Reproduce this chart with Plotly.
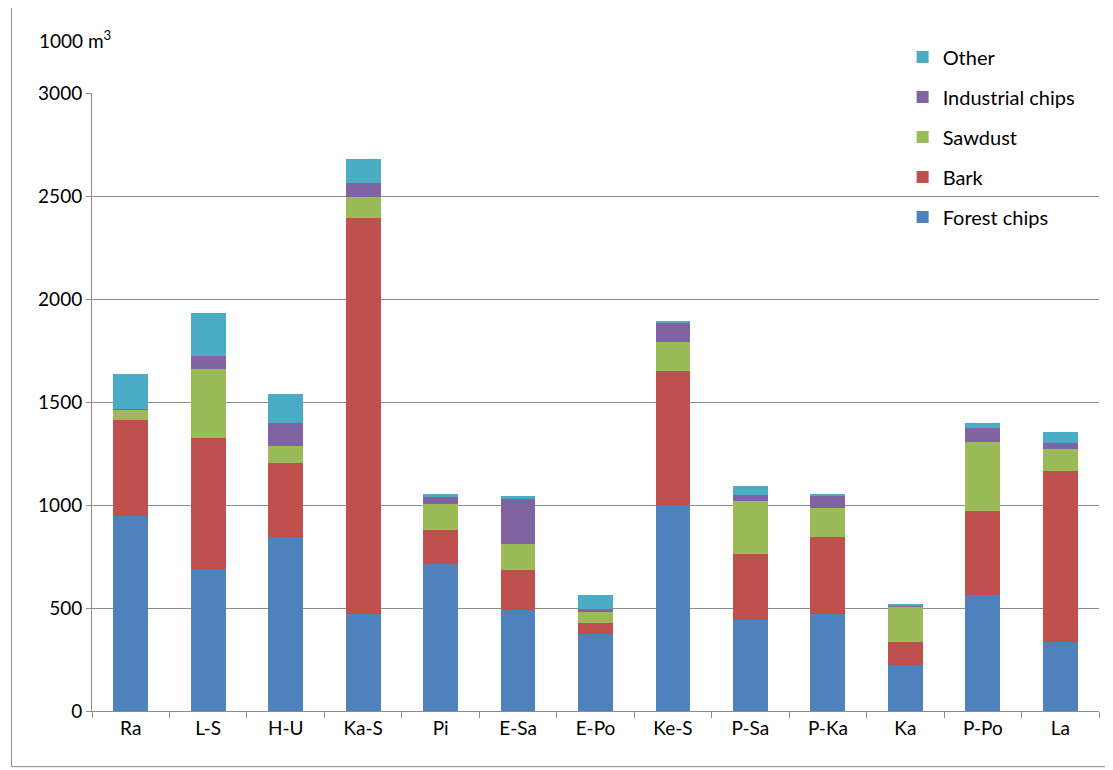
import plotly.graph_objects as go

regions = ["Ra", "L-S", "H-U", "Ka-S", "Pi", "E-Sa", "E-Po", "Ke-S", "P-Sa", "P-Ka", "Ka", "P-Po", "La"]

# cumulative tops, converted to segment sizes below
top_forest = [945, 688, 843, 473, 715, 490, 375, 1000, 440, 470, 225, 565, 335]
top_bark = [1412, 1323, 1205, 2393, 880, 685, 425, 1650, 762, 845, 335, 970, 1165]
top_sawdust = [1462, 1658, 1287, 2496, 1005, 810, 480, 1790, 1020, 985, 505, 1305, 1270]
top_industrial = [1465, 1722, 1400, 2565, 1040, 1030, 495, 1885, 1050, 1045, 510, 1375, 1300]
top_other = [1635, 1932, 1538, 2680, 1055, 1045, 565, 1895, 1090, 1050, 515, 1400, 1355]

def diff(a, b):
    return [x - y for x, y in zip(a, b)]

series = [
    ("Forest chips", top_forest, "#4F81BD"),
    ("Bark", diff(top_bark, top_forest), "#C0504D"),
    ("Sawdust", diff(top_sawdust, top_bark), "#9BBB59"),
    ("Industrial chips", diff(top_industrial, top_sawdust), "#8064A2"),
    ("Other", diff(top_other, top_industrial), "#4BACC6"),
]

fig = go.Figure()
for i, (name, vals, color) in enumerate(series):
    fig.add_trace(go.Bar(x=regions, y=vals, name=name, legendgroup=name, legendrank=1000 - i,
                         marker_color=color, marker_line_width=0))

fig.update_layout(
    barmode="stack",
    bargap=0.55,
    width=1113, height=770,
    paper_bgcolor="white", plot_bgcolor="white",
    font=dict(family="Lato, Liberation Sans, sans-serif", size=19, color="black"),
    margin=dict(l=84, r=22, t=85, b=67),
    legend=dict(x=0.805, y=1.09, xanchor="left", yanchor="top", traceorder="grouped",
                bgcolor="rgba(0,0,0,0)", font=dict(size=20), tracegroupgap=11),
    showlegend=True,
)
fig.update_yaxes(range=[0, 3000], dtick=500, showgrid=True, gridcolor="#8c8c8c", gridwidth=1,
                 showline=True, linecolor="#8c8c8c", ticks="outside", ticklen=5, tickcolor="#8c8c8c",
                 zeroline=False)
fig.update_xaxes(showline=True, linecolor="#8c8c8c", ticks="outside", ticklen=6,
                 tickcolor="#8c8c8c", tickson="boundaries")
fig.add_annotation(text="1000 m<sup>3</sup>", xref="paper", yref="paper", x=-0.055, y=1.11,
                   xanchor="left", yanchor="top", showarrow=False, font=dict(size=19))
fig.add_shape(type="rect", xref="paper", yref="paper", x0=-0.08, y0=-0.09, x1=1.02, y1=1.14,
              line=dict(color="#8c8c8c", width=1))

fig.write_html("out.html")
